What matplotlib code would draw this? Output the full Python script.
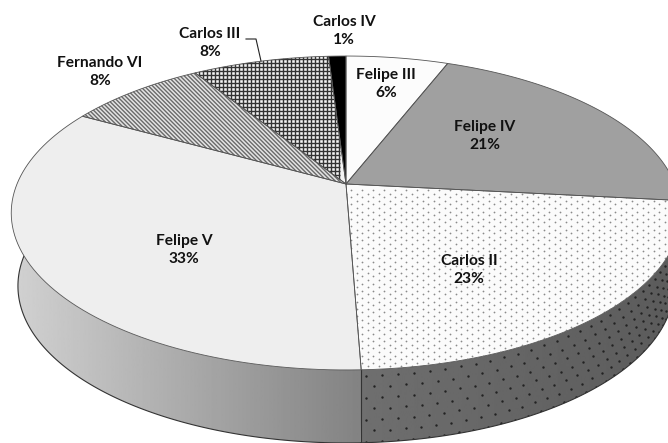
import matplotlib
matplotlib.use('Agg')
import matplotlib.pyplot as plt
from matplotlib.patches import Polygon
import numpy as np

plt.rcParams['font.family'] = ['Lato', 'DejaVu Sans']
plt.rcParams['hatch.linewidth'] = 1.0

# Slices, clockwise from twelve o'clock
kings = ['Felipe III', 'Felipe IV', 'Carlos II', 'Felipe V', 'Fernando VI', 'Carlos III', 'Carlos IV']
shares = [5.9, 20.8, 22.7, 33.7, 8.0, 7.9, 1.0]
pct_labels = ['6%', '21%', '23%', '33%', '8%', '8%', '1%']

fills = ['#fcfcfc', '#a0a0a0', '#fbfbfb', '#eeeeee', '#e4e4e4', '#f4f4f4', '#000000']
hatches = [None, None, None, None, '\\' * 8, None, None]
hatch_cols = ['#555555', '#555555', '#777777', '#555555', '#6a6a6a', '#222222', '#000000']
label_pos = [(386, 84), (485, 136), (469, 270), (184, 250), (100, 72), (210, 43), (344, 31)]

# pie geometry in pixels, tilted disc seen in perspective
cx, cy = 346, 184
A, B, k = 329, 151.6, 0.1847
depth = 73
low_scale = 0.98


def project(deg, shift=0.0, scale=1.0):
    """Map clockwise angles on the disc to picture pixels."""
    t = np.radians(deg)
    u, v = np.sin(t), np.cos(t)
    w = 1 + k * v
    return np.column_stack([cx + scale * A * u / w, cy - B * v / w + shift])


def side_poly(a0, a1):
    ts = np.linspace(a0, a1, 120)
    return np.vstack([project(ts), project(ts[::-1], depth, low_scale)])


def shaded_side(ax, a0, a1, x0, x1, g0, g1):
    poly = Polygon(side_poly(a0, a1), closed=True, fc='none', ec='none')
    ax.add_patch(poly)
    grad = np.linspace(g0, g1, 256).reshape(1, -1)
    im = ax.imshow(grad, cmap='gray', vmin=0, vmax=1, extent=[x0, x1, 443, 0], aspect='auto', zorder=1)
    im.set_clip_path(poly)
    ts = np.linspace(a0, a1, 120)
    low = project(ts, depth, low_scale)
    ax.plot(low[:, 0], low[:, 1], color='#333333', lw=0.8, zorder=3)
    return poly


fig = plt.figure(figsize=(6.68, 4.43), dpi=100)
ax = fig.add_axes([0, 0, 1, 1])

# side wall
split = sum(shares[:3]) * 3.6
right_side = shaded_side(ax, 90, split, 340, 668, 0.44, 0.36)
shaded_side(ax, split, 282, 14, 375, 0.82, 0.50)
foot = project(np.array([split, split]))
ax.plot(foot[:, 0], foot[:, 1] + [0, depth], color='#333333', lw=0.8, zorder=3)

# dots running round the wall of Carlos II
dot_t, dot_d = np.meshgrid(np.arange(92, split, 2.3), np.arange(6, depth, 11))
dot_t = dot_t + (np.arange(dot_t.shape[0]) % 2)[:, None] * 1.15
wall = project(dot_t.ravel(), dot_d.ravel(), 1 - (1 - low_scale) * dot_d.ravel() / depth)
dots = ax.scatter(wall[:, 0], wall[:, 1], s=3, color='#222222', lw=0, zorder=2)
dots.set_clip_path(right_side)

# top face
start = 0.0
for name, share, fc, hatch, hc in zip(kings, shares, fills, hatches, hatch_cols):
    ts = np.linspace(start * 3.6, (start + share) * 3.6, 80)
    pts = np.vstack([[cx, cy], project(ts)])
    face = Polygon(pts, closed=True, fc=fc, ec='none', zorder=4)
    ax.add_patch(face)
    if hatch:
        ax.add_patch(Polygon(pts, closed=True, fc='none', ec=hc, hatch=hatch, lw=0, zorder=5))
    if name == 'Carlos II':
        # fine grey dot screen
        gx, gy = np.meshgrid(np.arange(340, 670, 11.0), np.arange(190, 375, 3.6))
        gx = gx + (np.arange(gx.shape[0]) % 2)[:, None] * 5.5
        screen = ax.scatter(gx.ravel(), gy.ravel(), s=1.6, color='#8a8a8a', lw=0, zorder=5)
        screen.set_clip_path(face)
    if name == 'Carlos III':
        # square grid, drawn by hand because the + hatch gives moire at this size
        h = ax.hlines(np.arange(50, 190, 4) + 0.5, 190, 340, color='#333333', lw=1.0, zorder=5)
        v = ax.vlines(np.arange(190, 340, 4) + 0.5, 50, 190, color='#333333', lw=1.0, zorder=5)
        h.set_clip_path(face)
        v.set_clip_path(face)
    ax.add_patch(Polygon(pts, closed=True, fc='none', ec='#555555', lw=0.6, zorder=6))
    start += share

for name, pct, (x, y) in zip(kings, pct_labels, label_pos):
    ax.text(x, y, name + '\n' + pct, ha='center', va='center', fontsize=11.2,
            fontweight='bold', color='#111111', linespacing=1.3, zorder=8)

# leader line for Carlos III
ax.plot([246, 256, 261], [39, 39, 61], color='#222222', lw=0.8, zorder=7)

ax.set_xlim(0, 668)
ax.set_ylim(443, 0)
ax.axis('off')

fig.savefig('out.png', dpi=100)
